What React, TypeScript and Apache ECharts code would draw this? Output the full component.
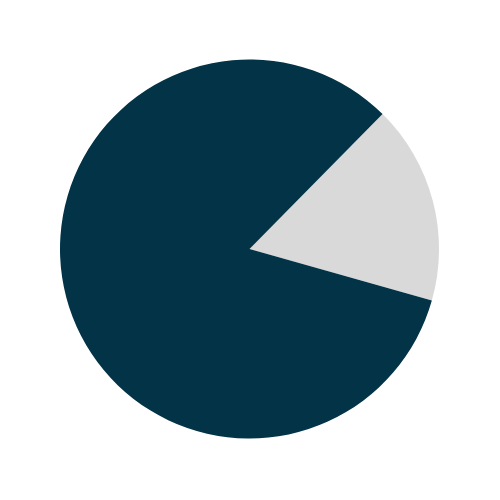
import { useEffect, useRef } from "react";
import * as echarts from "echarts";

// 两块：浅灰小块 + 深蓝大块（百分比估读）
const SLICE_NAMES = ["其他", "主体"];
const SLICE_VALUES = [17, 83];
const SLICE_COLORS = ["#d9d9d9", "#023347"];

export default function App() {
  const chartRef = useRef<HTMLDivElement | null>(null);

  useEffect(() => {
    const el = chartRef.current;
    if (!el) {
      return undefined;
    }
    const chart = echarts.init(el, undefined, { renderer: "svg" });
    chart.setOption({
      animation: false,
      backgroundColor: "#ffffff",
      series: [
        {
          type: "pie",
          center: [249.5, 249],
          radius: 189.5,
          startAngle: 45.4,
          clockwise: true,
          label: { show: false },
          labelLine: { show: false },
          emphasis: { disabled: true },
          itemStyle: { borderWidth: 0 },
          data: SLICE_NAMES.map((name, i) => ({
            name,
            value: SLICE_VALUES[i],
            itemStyle: { color: SLICE_COLORS[i] },
          })),
        },
      ],
    });
    return () => {
      chart.dispose();
    };
  }, []);

  return (
    <div
      ref={chartRef}
      style={{ position: "absolute", left: 0, top: 0, width: 500, height: 500 }}
    />
  );
}
